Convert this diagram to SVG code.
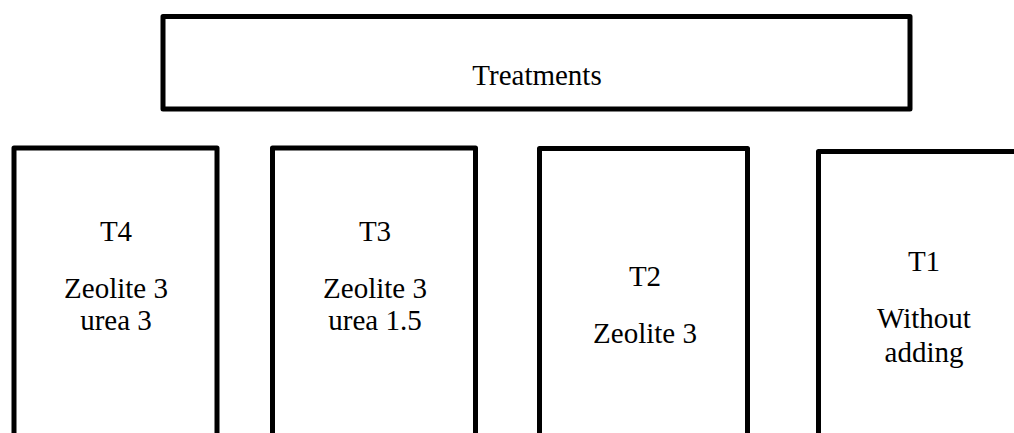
<svg xmlns="http://www.w3.org/2000/svg" width="1014" height="433" viewBox="0 0 1014 433">
  <style>
    .box { fill: #ffffff; stroke: #000000; stroke-width: 5; stroke-linejoin: round; }
    .lbl { font-family: "Liberation Serif", "Times New Roman", serif; font-size: 29px; fill: #000000; text-anchor: middle; }
  </style>
  <rect width="1014" height="433" fill="#ffffff"/>
  <g id="connectors"></g>
  <g id="treatments">
    <rect class="box" x="163" y="16.5" width="747" height="92.5"/>
    <text class="lbl" x="537" y="85">Treatments</text>
  </g>
  <g id="t4">
    <rect class="box" x="14" y="148" width="203" height="320"/>
    <text class="lbl" x="116" y="241">T4</text>
    <text class="lbl" x="116" y="298">Zeolite 3</text>
    <text class="lbl" x="116" y="330">urea 3</text>
  </g>
  <g id="t3">
    <rect class="box" x="272.5" y="148" width="203" height="320"/>
    <text class="lbl" x="375" y="241">T3</text>
    <text class="lbl" x="375" y="298">Zeolite 3</text>
    <text class="lbl" x="375" y="330">urea 1.5</text>
  </g>
  <g id="t2">
    <rect class="box" x="539.5" y="148.5" width="208" height="320"/>
    <text class="lbl" x="645" y="286">T2</text>
    <text class="lbl" x="645" y="343">Zeolite 3</text>
  </g>
  <g id="t1">
    <rect class="box" x="818.5" y="151.5" width="300" height="320"/>
    <text class="lbl" x="924" y="271">T1</text>
    <text class="lbl" x="924" y="328">Without</text>
    <text class="lbl" x="924" y="362">adding</text>
  </g>
</svg>
